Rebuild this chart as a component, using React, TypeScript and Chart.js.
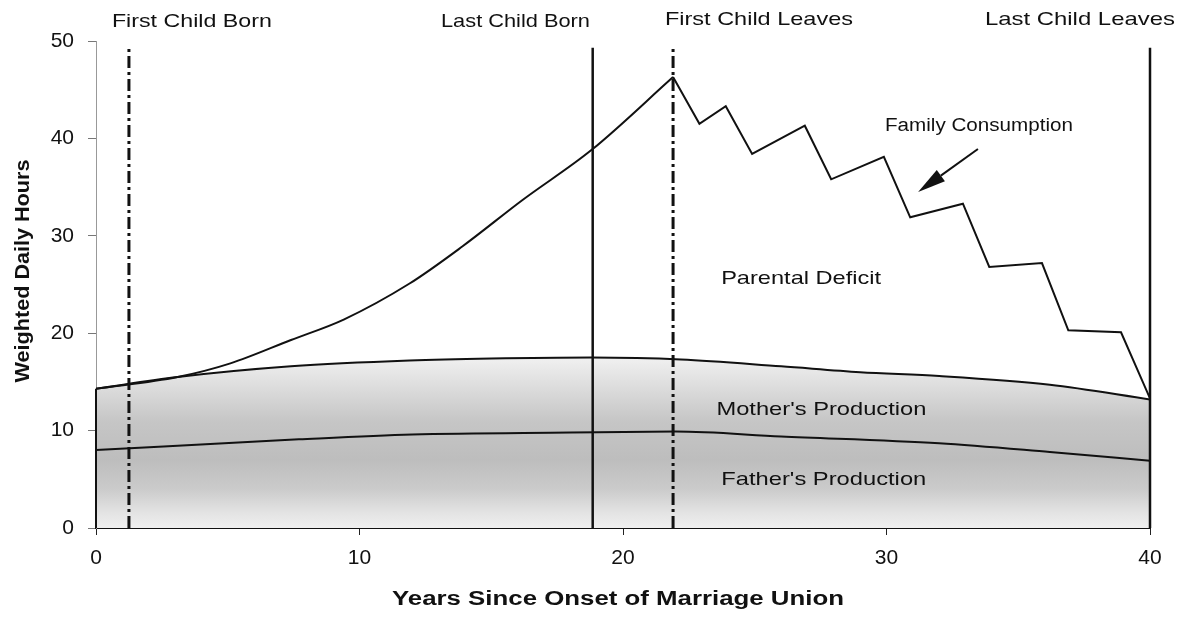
import { useEffect, useRef } from 'react';
import { Chart, registerables } from 'chart.js';

Chart.register(...registerables);

// ---- Data ----
const growthYears = [0, 3.1, 5.1, 7.4, 9.4, 11.9, 13.9, 16.2, 18.8, 21.9];
const growthHours = [14.3, 15.5, 16.9, 19.3, 21.4, 25.1, 28.9, 33.7, 38.8, 46.3];

const launchYears = [21.9, 22.9, 23.9, 24.9, 26.9, 27.9, 29.9, 30.9, 32.9, 33.9, 35.9, 36.9, 38.9, 40];
const launchHours = [46.3, 41.5, 43.3, 38.4, 41.3, 35.8, 38.1, 31.9, 33.3, 26.8, 27.2, 20.3, 20.1, 13.3];

const totalYears = [0, 3.1, 7.4, 11.9, 15, 18.8, 22.2, 26, 29, 32, 36.2, 40];
const totalHours = [14.3, 15.5, 16.6, 17.2, 17.4, 17.5, 17.3, 16.6, 16.0, 15.6, 14.7, 13.2];

const fatherYears = [0, 7.7, 12, 18, 22, 26, 32, 36.2, 40];
const fatherHours = [8.0, 9.1, 9.6, 9.8, 9.9, 9.4, 8.7, 7.8, 6.9];

const eventYears = [1.25, 18.85, 21.9, 40];
const eventLabels = ['First Child Born', 'Last Child Born', 'First Child Leaves', 'Last Child Leaves'];
const eventTop = 49.3;

const xTickStep = 10;
const yTickStep = 10;

const pts = (xs: number[], ys: number[]) => xs.map((x, i) => ({ x, y: ys[i] }));

const FONT = '"Liberation Sans", Arial, sans-serif';

function drawText(
  ctx: CanvasRenderingContext2D,
  text: string,
  cx: number,
  cy: number,
  size: number,
  bold: boolean,
  targetW: number,
  rotate = 0
) {
  ctx.save();
  ctx.font = `${bold ? 'bold ' : ''}${size}px ${FONT}`;
  const w = ctx.measureText(text).width;
  const sx = targetW / w;
  ctx.translate(cx, cy);
  if (rotate) ctx.rotate(rotate);
  ctx.scale(sx, 1);
  ctx.textAlign = 'center';
  ctx.textBaseline = 'middle';
  ctx.fillStyle = '#111';
  ctx.fillText(text, 0, 0);
  ctx.restore();
}

const annotationPlugin = {
  id: 'annotations',
  afterDatasetsDraw(chart: any) {
    const { ctx, scales } = chart;
    const X = (v: number) => scales.x.getPixelForValue(v);
    const Y = (v: number) => scales.y.getPixelForValue(v);

    // left edge of the production area
    ctx.save();
    ctx.strokeStyle = '#111';
    ctx.lineWidth = 2;
    ctx.beginPath();
    ctx.moveTo(X(0), Y(0));
    ctx.lineTo(X(0), Y(totalHours[0]));
    ctx.stroke();
    ctx.restore();

    // labels of events (above plot)
    const evLabelPos = [
      { x: 3.64, y: 51.95, w: 160 },
      { x: 15.92, y: 51.95, w: 149 },
      { x: 25.16, y: 52.16, w: 188 },
      { x: 37.34, y: 52.16, w: 190 },
    ];
    eventLabels.forEach((t, i) => {
      const p = evLabelPos[i];
      drawText(ctx, t, X(p.x), Y(p.y), 19, false, p.w);
    });

    // in-plot annotations
    drawText(ctx, 'Family Consumption', X(33.51), Y(41.27), 18, false, 188);
    drawText(ctx, 'Parental Deficit', X(26.76), Y(25.56), 19, false, 160);
    drawText(ctx, "Mother's Production", X(27.53), Y(12.11), 19, false, 210);
    drawText(ctx, "Father's Production", X(27.62), Y(4.93), 19, false, 205);

    // arrow
    const tx = X(33.47), ty = Y(38.91);
    const hx = X(31.2), hy = Y(34.5);
    const dx = hx - tx, dy = hy - ty;
    const len = Math.hypot(dx, dy);
    const ux = dx / len, uy = dy / len;
    const px = -uy, py = ux;
    const headL = 28, headW = 7;
    const bx = hx - ux * headL, by = hy - uy * headL;
    ctx.save();
    ctx.strokeStyle = '#111';
    ctx.fillStyle = '#111';
    ctx.lineWidth = 2;
    ctx.beginPath();
    ctx.moveTo(tx, ty);
    ctx.lineTo(bx, by);
    ctx.stroke();
    ctx.beginPath();
    ctx.moveTo(hx, hy);
    ctx.lineTo(bx + px * headW, by + py * headW);
    ctx.lineTo(bx - px * headW, by - py * headW);
    ctx.closePath();
    ctx.fill();
    ctx.restore();

    // axis titles
    drawText(ctx, 'Years Since Onset of Marriage Union', 618, 599, 20, true, 452);
    drawText(ctx, 'Weighted Daily Hours', 23, 271, 21, true, 223, -Math.PI / 2);
  },
};

export default function App() {
  const ref = useRef<HTMLCanvasElement>(null);

  useEffect(() => {
    const stops: [number, string][] = [
      [18, '#f4f4f4'],
      [15, '#e0e0e0'],
      [11, '#c6c6c6'],
      [7, '#bdbdbd'],
      [4, '#cbcbcb'],
      [1.5, '#e4e4e4'],
      [0, '#efefef'],
    ];

    const eventDatasets = eventYears.map((yr, i) => ({
      label: eventLabels[i],
      data: [
        { x: yr, y: 0 },
        { x: yr, y: eventTop },
      ],
      borderColor: '#111',
      borderWidth: i % 2 === 0 ? 3 : 2.5,
      borderDash: i % 2 === 0 ? [12, 4, 3, 4] : [],
      pointRadius: 0,
      fill: false,
      tension: 0,
      clip: false,
      order: 1,
    }));

    const chart = new Chart(ref.current as HTMLCanvasElement, {
      type: 'line',
      data: {
        datasets: [
          {
            label: 'Family Consumption (growth)',
            data: pts(growthYears, growthHours),
            borderColor: '#111',
            borderWidth: 2,
            pointRadius: 0,
            fill: false,
            cubicInterpolationMode: 'monotone',
            order: 0,
          },
          {
            label: 'Family Consumption (launch)',
            data: pts(launchYears, launchHours),
            borderColor: '#111',
            borderWidth: 2,
            pointRadius: 0,
            fill: false,
            tension: 0,
            order: 0,
          },
          {
            label: "Father's Production",
            data: pts(fatherYears, fatherHours),
            borderColor: '#111',
            borderWidth: 2,
            pointRadius: 0,
            fill: false,
            cubicInterpolationMode: 'monotone',
            order: 2,
          },
          {
            label: "Mother's Production",
            data: pts(totalYears, totalHours),
            borderColor: '#111',
            borderWidth: 2,
            pointRadius: 0,
            fill: 'origin',
            cubicInterpolationMode: 'monotone',
            backgroundColor: (c: any) => {
              const ch = c.chart;
              if (!ch.chartArea) return 'rgba(0,0,0,0)';
              const ys = ch.scales.y;
              const top = ys.getPixelForValue(18);
              const bot = ys.getPixelForValue(0);
              const g = ch.ctx.createLinearGradient(0, top, 0, bot);
              stops.forEach(([v, col]) => g.addColorStop((18 - v) / 18, col));
              return g;
            },
            order: 3,
          },
          ...eventDatasets,
        ] as any,
      },
      options: {
        animation: false,
        responsive: true,
        maintainAspectRatio: false,
        layout: { padding: { left: 0, right: 32, top: 41, bottom: 0 } },
        plugins: { legend: { display: false }, tooltip: { enabled: false } },
        scales: {
          x: {
            type: 'linear',
            min: 0,
            max: 40,
            ticks: {
              stepSize: xTickStep,
              color: '#111',
              font: { family: FONT, size: 21 },
              padding: 11,
              maxRotation: 0,
            },
            grid: { drawOnChartArea: false, drawTicks: true, tickLength: 7, color: '#222', lineWidth: 1 },
            border: { color: '#111', width: 2 },
            afterFit: (s: any) => {
              s.height = 94;
            },
          },
          y: {
            type: 'linear',
            min: 0,
            max: 50,
            ticks: {
              stepSize: yTickStep,
              color: '#111',
              font: { family: FONT, size: 21 },
              padding: 14,
            },
            grid: { drawOnChartArea: false, drawTicks: true, tickLength: 8, color: '#777', lineWidth: 1 },
            border: { color: '#999', width: 1, dash: [2, 2] },
            afterFit: (s: any) => {
              s.width = 96;
            },
          },
        },
      } as any,
      plugins: [annotationPlugin],
    });
    return () => chart.destroy();
  }, []);

  return (
    <div style={{ position: 'absolute', left: 0, top: 0, width: 1182, height: 622, background: '#fff' }}>
      <canvas ref={ref} />
    </div>
  );
}
